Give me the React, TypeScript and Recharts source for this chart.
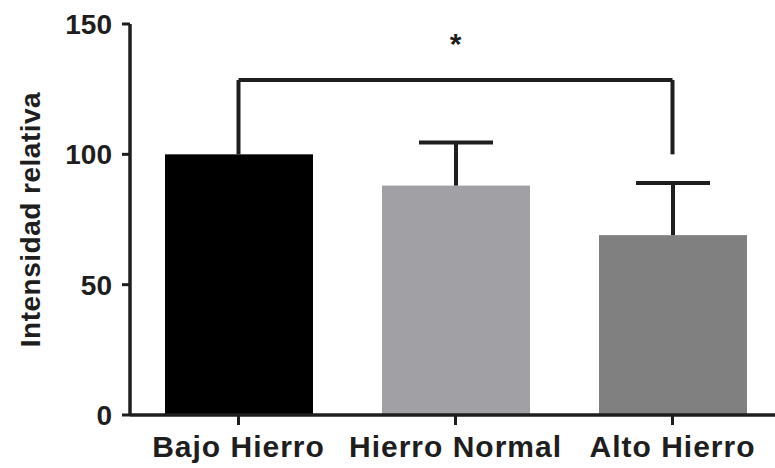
import React from 'react';
import { BarChart, Bar, XAxis, YAxis, Cell, ReferenceLine } from 'recharts';

const categories = ['Bajo Hierro', 'Hierro Normal', 'Alto Hierro'];
const means = [100, 88, 69];
const errors = [0, 16.5, 20];
const yTicks = [0, 50, 100, 150];
const bracketLevel = 128.5;
const bracketFoot = 100;

const COLORS = ['#000000', '#a1a0a5', '#808080'];
const INK = '#1e1e1e';

const data = categories.map((name, i) => ({ name, value: means[i], err: errors[i] }));

// bar + upward-only error whisker, scaled from the bar's own pixel height
const BarWithError = (props: any) => {
  const { x, y, width, height, fill, payload } = props;
  const cx = x + width / 2;
  const errPx = payload.value ? (payload.err * height) / payload.value : 0;
  return (
    <g>
      <rect x={x} y={y} width={width} height={height} fill={fill} />
      {errPx > 0 && (
        <g stroke={INK} strokeWidth={4}>
          <line x1={cx} y1={y} x2={cx} y2={y - errPx} />
          <line x1={cx - width / 4} y1={y - errPx} x2={cx + width / 4} y2={y - errPx} />
        </g>
      )}
    </g>
  );
};

export default function App() {
  return (
    <div style={{ position: 'absolute', left: 0, top: 0, width: 775, height: 468, overflow: 'hidden', background: '#fff' }}>
      <BarChart
        width={790}
        height={468}
        data={data}
        margin={{ top: 24, right: 9, bottom: 0, left: 0 }}
        style={{ fontFamily: '"Liberation Sans", Arial, sans-serif' }}
      >
        <XAxis
          dataKey="name"
          height={53}
          axisLine={{ stroke: INK, strokeWidth: 3.5 }}
          tickLine={{ stroke: INK, strokeWidth: 3 }}
          tickSize={10}
          tickMargin={11}
          tick={{ fill: INK, fontSize: 30, fontWeight: 700, letterSpacing: 1 }}
          interval={0}
        />
        <YAxis
          width={130}
          domain={[0, 150]}
          ticks={yTicks}
          axisLine={{ stroke: INK, strokeWidth: 3.5 }}
          tickLine={{ stroke: INK, strokeWidth: 3 }}
          tickSize={8}
          tickMargin={10}
          tick={{ fill: INK, fontSize: 28, fontWeight: 700 }}
          label={{
            value: 'Intensidad relativa',
            angle: -90,
            position: 'center',
            dx: -35,
            style: { fill: INK, fontSize: 28, fontWeight: 700, letterSpacing: 0.5 },
          }}
        />
        <Bar dataKey="value" barSize={148} shape={BarWithError} isAnimationActive={false}>
          {data.map((entry, i) => (
            <Cell key={`cell-${i}`} fill={COLORS[i % COLORS.length]} />
          ))}
        </Bar>
        <ReferenceLine
          segment={[
            { x: categories[0], y: bracketLevel },
            { x: categories[2], y: bracketLevel },
          ]}
          stroke={INK}
          strokeWidth={4}
          label={{ value: '*', position: 'top', offset: 26, fill: INK, fontSize: 30, fontWeight: 700 }}
        />
        <ReferenceLine
          segment={[
            { x: categories[0], y: bracketFoot },
            { x: categories[0], y: bracketLevel },
          ]}
          stroke={INK}
          strokeWidth={4}
        />
        <ReferenceLine
          segment={[
            { x: categories[2], y: bracketFoot },
            { x: categories[2], y: bracketLevel },
          ]}
          stroke={INK}
          strokeWidth={4}
        />
      </BarChart>
    </div>
  );
}
